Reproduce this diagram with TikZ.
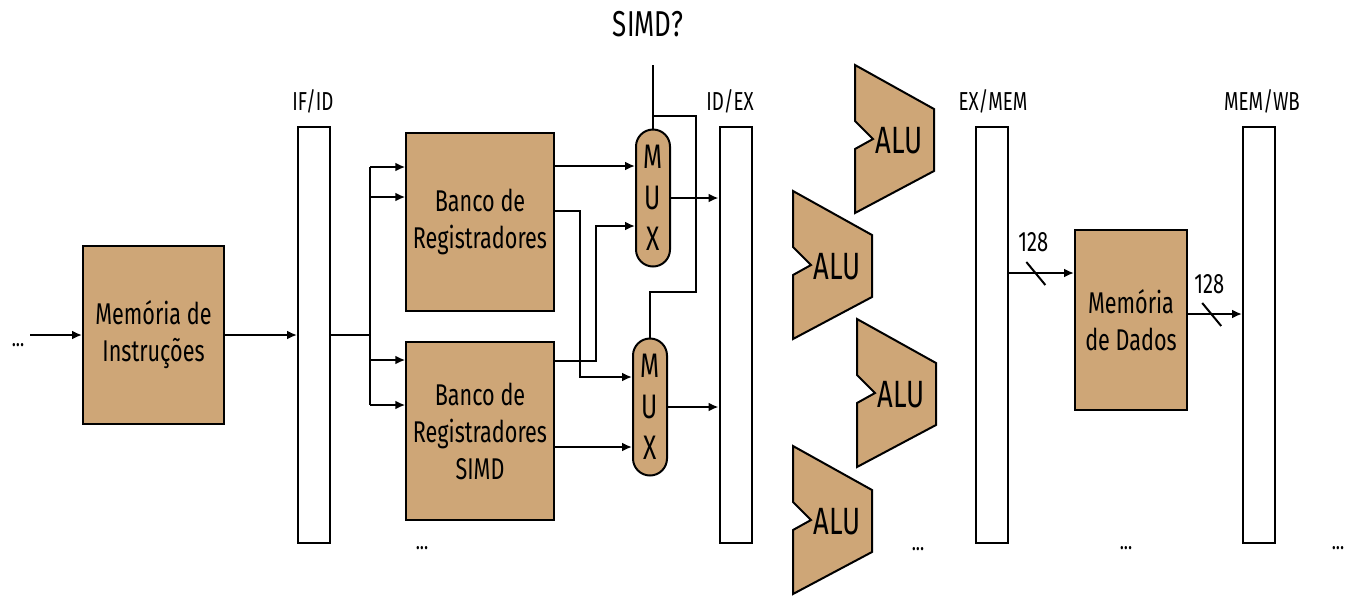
\documentclass[tikz,border=0pt]{standalone}
\usepackage{fontspec}
\setmainfont{Fira Sans}[FakeStretch=0.72]
\usepackage{tikz}
\usetikzlibrary{arrows.meta, positioning, calc}
\usepackage{xcolor}
\definecolor{unitfill}{HTML}{CEA677}

\begin{document}
\begin{tikzpicture}[
    x=0.5pt, y=-0.5pt,
    unitbox/.style={rectangle, draw, fill=unitfill, line width=1pt,
                    minimum width=#1, minimum height=89pt, align=center,
                    font=\fontsize{15}{18.5}\selectfont},
    pipereg/.style={rectangle, draw, line width=1pt,
                    minimum width=16pt, minimum height=208pt},
    mux/.style={rectangle, rounded corners=8.5pt, draw, fill=unitfill,
                line width=1pt, minimum width=17pt, minimum height=68.5pt,
                align=center, font=\fontsize{17}{20.5}\selectfont},
    alu/.style={draw, fill=unitfill, line width=1pt, line join=miter},
    alutext/.style={font=\fontsize{19}{22}\selectfont},
    arrow/.style={-{Latex[length=5pt, width=4.5pt]}, line width=1pt},
    wire/.style={line width=1pt},
    stagelabel/.style={font=\fontsize{13}{15}\selectfont},
    buslabel/.style={font=\fontsize{14}{16}\selectfont},
    ellip/.style={font=\fontsize{12}{14}\selectfont},
]
\useasboundingbox (0,0) rectangle (1346,596);

% Instruction fetch
\node[ellip] (dots0) at (18,345) {...};
\coordinate (in) at (30,335);
\node[unitbox=70.5pt] (imem) at (153.5,335) {Memória de\\Instruções};
\draw[arrow] (in) -- (imem.west);

% Pipeline registers
\node[pipereg] (ifid)  at (314,335) {};
\node[pipereg] (idex)  at (735.5,335) {};
\node[pipereg] (exmem) at (991.5,335) {};
\node[pipereg] (memwb) at (1259,335) {};
\node[stagelabel] at (313,101) {IF/ID};
\node[stagelabel] at (730,101) {ID/EX};
\node[stagelabel] at (993,101) {EX/MEM};
\node[stagelabel] at (1262,101) {MEM/WB};

\draw[arrow] (imem.east) -- (imem.east -| ifid.west);

% Register banks
\node[unitbox=72pt] (regs) at (480,222) {Banco de\\Registradores};
\node[unitbox=72pt] (regsimd) at (480,431) {Banco de\\Registradores\\SIMD};
\node[ellip] at (422,548) {...};

\coordinate (fork) at (370,335);
\coordinate (f1) at (370,167);
\coordinate (f2) at (370,197);
\coordinate (f3) at (370,360);
\coordinate (f4) at (370,405);
\draw[wire] (imem.east -| ifid.east) -- (fork);
\draw[wire] (f1) -- (f4);
\foreach \f/\b in {f1/regs, f2/regs, f3/regsimd, f4/regsimd}
    \draw[arrow] (\f) -- (\f -| \b.west);

% Multiplexers
\node[mux] (mux1) at (653,198) {M\\U\\X};
\node[mux] (mux2) at (650,407) {M\\U\\X};

\draw[arrow] (regs.east |- 0,166) -- (mux1.west |- 0,166);
\draw[arrow] (regs.east |- 0,211) -| (580,377) -- (mux2.west |- 0,377);
\draw[arrow] (regsimd.east |- 0,361) -| (596,226) -- (mux1.west |- 0,226);
\draw[arrow] (regsimd.east |- 0,447) -- (mux2.west |- 0,447);

\draw[arrow] (mux1.east) -- (mux1.east -| idex.west);
\draw[arrow] (mux2.east) -- (mux2.east -| idex.west);

% Select line
\node[font=\fontsize{18}{21}\selectfont] (simd) at (648,24) {SIMD?};
\coordinate (sel) at (mux1.north |- 0,65);
\coordinate (selturn) at (696,292);
\draw[wire] (sel) -- (mux1.north);
\draw[wire] (mux1.north |- 0,116) -| (selturn) -| (mux2.north);

% ALUs
\foreach \x/\y [count=\i] in {855/65, 793/191, 857/319, 793/446} {
    \draw[alu] (\x,\y) -- ++(79,44) -- ++(0,62) -- ++(-79,42)
        -- ++(0,-64) -- ++(18,-10) -- ++(-18,-18) -- cycle;
    \node[alutext] (alu\i) at (\x+44,\y+76) {ALU};
}
\node[ellip] at (918,549) {...};

% Data memory
\node[unitbox=56pt, minimum height=90pt] (dmem) at (1131,320) {Memória\\de Dados};
\node[ellip] at (1126,548) {...};
\node[ellip] at (1338,548) {...};

\draw[arrow] (exmem.east |- 0,273) -- coordinate[pos=0.41] (bus1) (dmem.west |- 0,273);
\draw[wire] ([shift={(-9,-11)}]bus1) -- ([shift={(10,12)}]bus1);
\node[buslabel] at ([shift={(-2,-31)}]bus1) {128};

\draw[arrow] (dmem.east |- 0,314) -- coordinate[pos=0.43] (bus2) (memwb.west |- 0,314);
\draw[wire] ([shift={(-9,-11)}]bus2) -- ([shift={(10,12)}]bus2);
\node[buslabel] at ([shift={(-2,-30)}]bus2) {128};

\end{tikzpicture}
\end{document}
